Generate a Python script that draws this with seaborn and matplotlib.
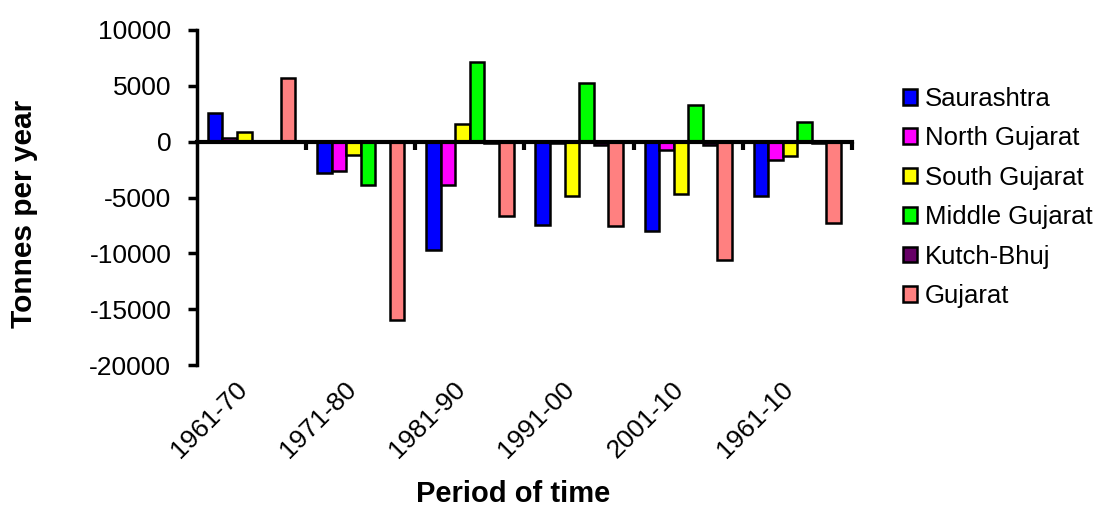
import pandas as pd
import matplotlib
matplotlib.use("Agg")
import matplotlib.pyplot as plt
import seaborn as sns

# data (tonnes per year)
periods = ["1961-70", "1971-80", "1981-90", "1991-00", "2001-10", "1961-10"]
regions = ["Saurashtra", "North Gujarat", "South Gujarat", "Middle Gujarat", "Kutch-Bhuj", "Gujarat"]

saurashtra = [2600, -2830, -9670, -7460, -8030, -4830]
north_gujarat = [330, -2600, -3850, -150, -750, -1610]
south_gujarat = [830, -1200, 1580, -4830, -4690, -1310]
middle_gujarat = [0, -3880, 7100, 5250, 3280, 1790]
kutch_bhuj = [0, -50, -150, -300, -300, -80]
gujarat = [5670, -15960, -6680, -7580, -10560, -7310]

colors = ["#0000FF", "#FF00FF", "#FFFF00", "#00FF00", "#660066", "#FF8080"]

# long format table for seaborn
values = [saurashtra, north_gujarat, south_gujarat, middle_gujarat, kutch_bhuj, gujarat]
rows = []
for reg, vals in zip(regions, values):
    for per, v in zip(periods, vals):
        rows.append({"period": per, "region": reg, "value": v})
df = pd.DataFrame(rows)

sns.set_style("ticks")
plt.rcParams["font.family"] = ["Liberation Sans", "DejaVu Sans"]
plt.rcParams["axes.unicode_minus"] = False
plt.rcParams["text.color"] = "black"
plt.rcParams["axes.labelcolor"] = "black"
plt.rcParams["xtick.color"] = "black"
plt.rcParams["ytick.color"] = "black"

fig = plt.figure(figsize=(11.03, 5.11), dpi=100)
ax = fig.add_axes([0.1786, 0.2857, 0.5938, 0.6556])

sns.barplot(data=df, x="period", y="value", hue="region", order=periods,
            hue_order=regions, palette=colors, saturation=1, width=0.8,
            edgecolor="black", linewidth=1.8, errorbar=None, ax=ax)

ax.set_ylim(-20000, 10000)
ax.set_xlim(-0.5, 5.5)
ax.set_yticks(range(-20000, 10001, 5000))
ax.tick_params(axis="y", left=True, labelsize=19, length=6.5, width=2.5, pad=12)

# zero line acts as the x axis, ticks between the groups
sns.despine(ax=ax)
ax.spines["bottom"].set_position(("data", 0))
ax.spines["bottom"].set_linewidth(3)
ax.spines["left"].set_linewidth(2.5)
ax.spines["left"].set_color("black")
ax.spines["bottom"].set_color("black")
ax.set_xticks([0.5, 1.5, 2.5, 3.5, 4.5, 5.5])
ax.set_xticklabels([])
ax.tick_params(axis="x", bottom=True, length=6, width=3, direction="out")

# period labels at the bottom of the axes
sec = ax.secondary_xaxis("bottom")
sec.set_xticks(range(len(periods)))
sec.set_xticklabels(periods, rotation=45, ha="right")
sec.tick_params(length=0, pad=9, labelsize=19)
sec.spines["bottom"].set_visible(False)

ax.set_xlabel("")
ax.set_ylabel("Tonnes per year", fontsize=21.5, fontweight="bold")
ax.yaxis.set_label_coords(-0.243, 0.45)
fig.text(0.4655, 0.006, "Period of time", fontsize=21, fontweight="bold", ha="center", va="bottom")

handles, labels = ax.get_legend_handles_labels()
ax.legend_.remove()
fig.legend(handles, labels, loc="upper left", bbox_to_anchor=(0.819, 0.83),
           frameon=False, fontsize=18.5, handlelength=0.55, handleheight=0.55,
           handletextpad=0.3, labelspacing=0.6, borderpad=0, borderaxespad=0)

fig.savefig("out.png", dpi=100)
